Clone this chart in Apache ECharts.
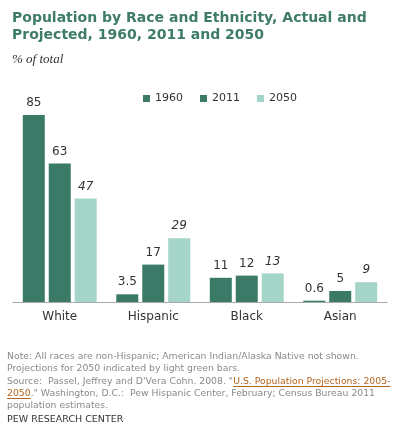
<!DOCTYPE html>
<html><head><meta charset="utf-8">
<script src="https://cdn.jsdelivr.net/npm/echarts@6/dist/echarts.min.js"></script>
<style>html,body{margin:0;padding:0;background:#fff}#c{width:400px;height:436px}</style>
</head><body><div id="c"></div>
<script>
const categories = ['White', 'Hispanic', 'Black', 'Asian'];
const seriesNames = ['1960', '2011', '2050'];
const v1960 = [85, 3.5, 11, 0.6];
const v2011 = [63, 17, 12, 5];
const v2050 = [47, 29, 13, 9];

const dark = '#3b7a67', light = '#a5d5c8';
const F = 'DejaVu Sans';
const chart = echarts.init(document.getElementById('c'), null, {renderer: 'canvas'});
function ser(name, data, color, italic) {
  return {
    name, type: 'bar', data, barWidth: 22, barGap: '18%',
    itemStyle: {color},
    label: {show: true, position: 'top', distance: 6, color: '#333', fontFamily: F, fontSize: 12,
      fontStyle: italic ? 'italic' : 'normal'}
  };
}
const NF = 9.3, NC = '#8a8a8a', LC = '#b5651d';
const srcPre = 'Source:  Passel, Jeffrey and D\'Vera Cohn. 2008. "';
const link1 = 'U.S. Population Projections: 2005-';
const link2 = '2050';
const ctx = document.createElement('canvas').getContext('2d');
ctx.font = NF + 'px "DejaVu Sans"';
const preW = ctx.measureText(srcPre).width;
const l1W = ctx.measureText(link1).width;
const l2W = ctx.measureText(link2).width;
const X0 = 7, SRC_TOP = 376;
chart.setOption({
  animation: false,
  title: [
    {text: 'Population by Race and Ethnicity, Actual and\nProjected, 1960, 2011 and 2050', left: 7, top: 5,
      textStyle: {fontFamily: F, fontWeight: 'bold', fontSize: 14, color: '#3e7c69', lineHeight: 17}},
    {text: '% of total', left: 7, top: 48,
      textStyle: {fontFamily: 'Liberation Serif', fontStyle: 'italic', fontSize: 13, color: '#333', fontWeight: 'normal'}}
  ],
  legend: {
    data: seriesNames, top: 88, left: 138, itemWidth: 7, itemHeight: 7, itemGap: 17,
    icon: 'rect', textStyle: {fontFamily: F, fontSize: 11, color: '#333'}
  },
  grid: {left: 13, right: 13, top: 115, bottom: 134, containLabel: false},
  xAxis: {
    type: 'category', data: categories,
    axisLine: {lineStyle: {color: '#aaa'}}, axisTick: {show: false},
    axisLabel: {fontFamily: F, fontSize: 12, color: '#333', margin: 9}
  },
  yAxis: {type: 'value', min: 0, max: 85, show: false},
  series: [ser('1960', v1960, dark), ser('2011', v2011, dark), ser('2050', v2050, light, true)],
  graphic: [
    {type: 'text', left: X0, top: 351, style: {text: 'Note: All races are non-Hispanic; American Indian/Alaska Native not shown.\nProjections for 2050 indicated by light green bars.', lineHeight: 12, fontFamily: F, fontSize: NF, fill: NC}},
    {type: 'text', left: X0, top: SRC_TOP, style: {
      text: '{n|' + srcPre + '}{l|' + link1 + '}\n{l|' + link2 + '}{n|." Washington, D.C.:  Pew Hispanic Center, February; Census Bureau 2011}\n{n|population estimates.}',
      fontFamily: F, fontSize: NF, fill: NC, lineHeight: 12,
      rich: {n: {fontFamily: F, fontSize: NF, fill: NC, lineHeight: 12}, l: {fontFamily: F, fontSize: NF, fill: LC, lineHeight: 12}}
    }},
    {type: 'line', shape: {x1: X0 + preW, y1: SRC_TOP + 10.5, x2: X0 + preW + l1W, y2: SRC_TOP + 10.5}, style: {stroke: LC, lineWidth: 1}},
    {type: 'line', shape: {x1: X0, y1: SRC_TOP + 22.5, x2: X0 + l2W, y2: SRC_TOP + 22.5}, style: {stroke: LC, lineWidth: 1}},
    {type: 'text', left: 7, top: 415, style: {text: 'PEW RESEARCH CENTER', fontFamily: F, fontSize: 9.5, fill: '#333'}}
  ]
});
</script></body></html>
